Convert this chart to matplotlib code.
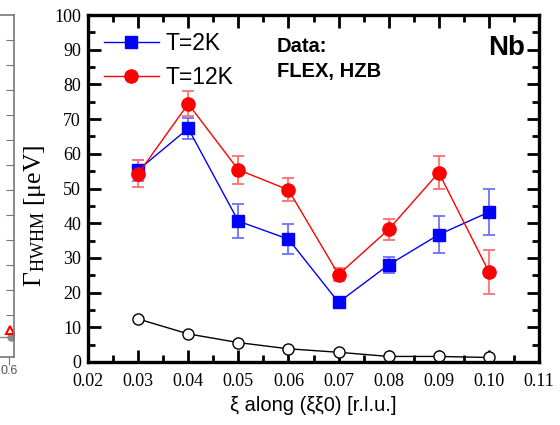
import numpy as np
import matplotlib
matplotlib.use('Agg')
from matplotlib import pyplot as plt
from matplotlib.ticker import MultipleLocator, FormatStrFormatter

# data
xi = [0.03, 0.04, 0.05, 0.06, 0.07, 0.08, 0.09, 0.10]
g_2k = [55.3, 67.3, 40.6, 35.4, 17.2, 28.0, 36.7, 43.2]
e_2k = [3.0, 3.0, 5.0, 4.4, 1.0, 2.4, 5.3, 6.7]
g_12k = [54.2, 74.4, 55.4, 49.6, 25.2, 38.2, 54.6, 26.0]
e_12k = [3.9, 3.6, 4.0, 3.3, 1.8, 2.9, 4.8, 6.3]
g_res = [12.4, 8.1, 5.6, 3.8, 2.8, 1.6, 1.6, 1.3]

# cropped neighbouring panel at the left edge
frag_yticks = list(range(0, 12))
frag_tri_x, frag_tri_y = [0.602], [-0.6]
frag_dot_x, frag_dot_y = [0.55, 0.604], [-0.88, -0.88]

plt.rcParams['mathtext.fontset'] = 'custom'
plt.rcParams['mathtext.rm'] = 'Liberation Serif'
plt.rcParams['mathtext.it'] = 'Liberation Serif:italic'

fig = plt.figure(figsize=(5.6, 4.25), dpi=100)

# left fragment
ax0 = fig.add_axes([-186 / 560, (425 - 357) / 425, 200 / 560, (357 - 15) / 425])
grey = '#777777'
for s in ['top', 'bottom', 'right']:
    ax0.spines[s].set_color(grey)
    ax0.spines[s].set_linewidth(1.2)
ax0.spines['left'].set_visible(False)
ax0.set_xlim(0.21, 0.61)
ax0.set_ylim(-1.68, 12.0)
ax0.yaxis.tick_right()
ax0.set_yticks(frag_yticks)
ax0.tick_params(axis='y', direction='in', length=6, color=grey, labelright=False)
ax0.set_xticks([0.6])
ax0.set_xticklabels(['0.6'], fontsize=9, color='#555555', family='Liberation Sans')
ax0.tick_params(axis='x', direction='out', length=6, color=grey, pad=0)
ax0.plot(frag_dot_x, frag_dot_y, '-o', color='#888888', ms=5, lw=1)
ax0.plot(frag_tri_x, frag_tri_y, '^', mfc='none', mec='red', ms=6, mew=1.5)

# main panel
ax = fig.add_axes([88 / 560, (425 - 362) / 425, 451 / 560, 347 / 425])

ax.errorbar(xi, g_2k, yerr=e_2k, fmt='none', ecolor='#6f6fff', elinewidth=1.3,
            capsize=4.5, capthick=1.3, zorder=3)
ax.errorbar(xi, g_12k, yerr=e_12k, fmt='none', ecolor='#ff6f6f', elinewidth=1.3,
            capsize=4.5, capthick=1.3, zorder=3)
ax.plot(xi, g_2k, '-s', color='blue', lw=1, ms=8, label='T=2K', zorder=4)
ax.plot(xi, g_12k, '-o', color='red', lw=1, ms=9.5, label='T=12K', zorder=4)
ax.plot(xi, g_res, '-o', color='black', mfc='white', lw=1, ms=8, mew=1, zorder=2)

ax.set_xlim(0.02, 0.11)
ax.set_ylim(0, 100)
ax.xaxis.set_major_locator(MultipleLocator(0.01))
ax.xaxis.set_minor_locator(MultipleLocator(0.005))
ax.yaxis.set_major_locator(MultipleLocator(10))
ax.yaxis.set_minor_locator(MultipleLocator(5))
ax.xaxis.set_major_formatter(FormatStrFormatter('%.2f'))
ax.tick_params(which='both', direction='in', top=True, right=True, width=2)
ax.tick_params(which='major', length=9)
ax.tick_params(which='minor', length=5)
ax.tick_params(axis='x', pad=8)
ax.tick_params(axis='y', pad=5)
for lab in ax.get_xticklabels() + ax.get_yticklabels():
    lab.set_family('Liberation Serif')
    lab.set_fontsize(13)
for s in ax.spines.values():
    s.set_linewidth(2.4)

ax.set_xlabel('ξ along (ξξ0) [r.l.u.]', family='Liberation Sans', fontsize=14.5, labelpad=4)
ax.set_ylabel(r'$\Gamma_{\mathrm{HWHM}}$ [μeV]', family='Liberation Serif', fontsize=18.5)
ax.yaxis.set_label_coords(-0.088, 0.42)

leg = ax.legend(loc='upper left', bbox_to_anchor=(0.035, 0.952), frameon=False,
                numpoints=1, handlelength=2.4, handletextpad=0.3, labelspacing=0.5,
                borderpad=0, borderaxespad=0,
                prop={'family': 'Liberation Sans', 'size': 16.5})

ax.text(0.418, 0.873, 'Data:\nFLEX, HZB', transform=ax.transAxes, fontsize=14.5,
        fontweight='bold', family='Liberation Sans', va='center', ha='left',
        linespacing=1.4)
ax.text(0.97, 0.905, 'Nb', transform=ax.transAxes, fontsize=20, fontweight='bold',
        family='Liberation Sans', va='center', ha='right')

fig.savefig('out.png', dpi=100)
